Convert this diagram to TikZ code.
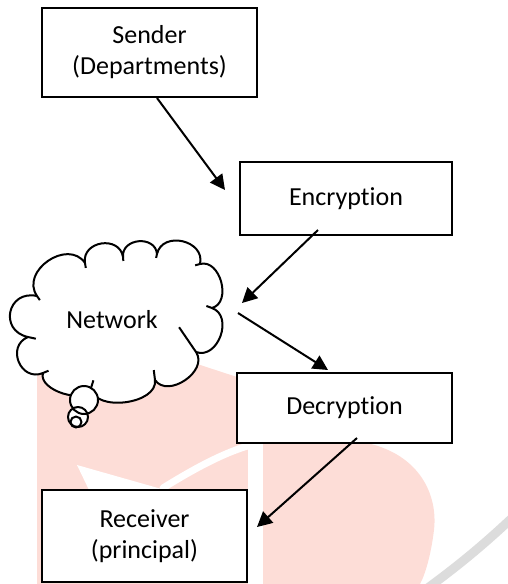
\documentclass[tikz,border=0pt]{standalone}
\usepackage{fontspec}
\setmainfont{Carlito}[Ligatures=NoCommon]
\usetikzlibrary{calc,arrows.meta}
\definecolor{wmpink}{RGB}{253,221,215}
\definecolor{wmgray}{RGB}{220,220,220}
\begin{document}
\begin{tikzpicture}[x=1pt,y=-1pt,
  font=\fontsize{26}{31}\selectfont,
  box/.style={draw, line width=2pt, fill=white, align=center, inner sep=0pt},
  arr/.style={line width=2pt, -{Triangle[length=15pt,width=15pt]}},
  cloudline/.style={line width=2pt, line join=round},
  bump/.style n args={3}{insert path={.. controls ($(#1)!#3!90:(#2)$) and ($(#2)!#3!-90:(#1)$) .. (#2)}},
]
\useasboundingbox (0,0) rectangle (507,584);

% faint background watermark
\fill[wmpink] (37,584) -- (37,360) -- (185,360) -- (240,378) -- (300,415) -- (367,443)
  .. controls (420,455) and (438,495) .. (434,530)
  .. controls (431,555) and (425,575) .. (420,584) -- cycle;
\fill[white] (77,465) -- (165,490) -- (90,492) -- cycle;
\fill[white] (248,443) rectangle (263,584);
\draw[white, line width=7pt, line cap=round] (163,488) .. controls (200,465) and (230,450) .. (255,444);
\draw[wmgray, line width=9pt] (512,518) .. controls (480,548) and (455,568) .. (425,590);

% cloud outline: cusp points, clockwise
\coordinate (C1) at (37,296);
\coordinate (C2) at (85,263);
\coordinate (C3) at (123,257);
\coordinate (C4) at (157,254);
\coordinate (C5) at (200,264);
\coordinate (C6) at (212,308);
\coordinate (C7) at (196,352);
\coordinate (C8) at (155,380);
\coordinate (C9) at (91,388);
\coordinate (C10) at (43,373);
\coordinate (C11) at (28,337);

\path[draw, fill=white, cloudline] (C1)
  [bump={C1}{C2}{0.52}] [bump={C2}{C3}{0.58}] [bump={C3}{C4}{0.56}]
  [bump={C4}{C5}{0.55}] [bump={C5}{C6}{0.46}] [bump={C6}{C7}{0.50}]
  [bump={C7}{C8}{0.46}] [bump={C8}{C9}{0.38}] [bump={C9}{C10}{0.36}]
  [bump={C10}{C11}{0.62}] [bump={C11}{C1}{0.72}] -- cycle;

% short inner strokes at the cusps
\draw[cloudline] (C1) -- ($(C1)!5pt!-90:(C2)$);
\draw[cloudline] (C2) -- ($(C2)!5pt!-90:(C3)$);
\draw[cloudline] (C3) -- ($(C3)!4pt!-90:(C4)$);
\draw[cloudline] (C4) -- ($(C4)!4pt!-90:(C5)$);
\draw[cloudline] (C5) -- ($(C5)!5pt!-90:(C6)$);
\draw[cloudline] (C6) -- ($(C6)!6pt!-90:(C7)$);
\draw[cloudline] (C7) -- ($(C7)!30pt!-90:(C8)$);
\draw[cloudline] (C8) -- ($(C8)!10pt!-90:(C9)$);
\draw[cloudline] (C9) -- ($(C9)!8pt!-90:(C10)$);
\draw[cloudline] (C10) -- ($(C10)!6pt!-90:(C11)$);
\draw[cloudline] (C11) -- ($(C11)!8pt!-90:(C1)$);

% thought bubbles
\fill[white] (84,400) circle[radius=14pt];
\fill[white] (78,417) circle[radius=10pt];
\fill[white] (76,422) circle[radius=5.5pt];
\draw[cloudline] (84,400) circle[radius=14pt];
\draw[cloudline] (78,417) circle[radius=10pt];
\draw[cloudline] (76,422) circle[radius=5.5pt];

\node (net) at (112,320) {Network};

% boxes
\node[box, minimum width=215pt, minimum height=89pt] (sender) at (149.5,52.5) {Sender\\(Departments)};
\node[box, minimum width=212pt, minimum height=73pt] (enc) at (346,198.5) {Encryption};
\node[box, minimum width=215pt, minimum height=70pt] (dec) at (344.5,408) {Decryption};
\node[box, minimum width=205pt, minimum height=92pt] (recv) at (144.5,536) {Receiver\\(principal)};

% connectors
\coordinate (encIn) at (225,190);
\coordinate (netIn) at (242,303);
\coordinate (netOut) at (238,313);
\coordinate (decIn) at (328,370);
\coordinate (recvIn) at (257,527);
\draw[arr] ([xshift=7.5pt]sender.south) -- (encIn);
\draw[arr] ([xshift=-28pt,yshift=6pt]enc.south) -- (netIn);
\draw[arr] (netOut) -- (decIn);
\draw[arr] ([xshift=12.5pt,yshift=6pt]dec.south) -- (recvIn);
\end{tikzpicture}
\end{document}
